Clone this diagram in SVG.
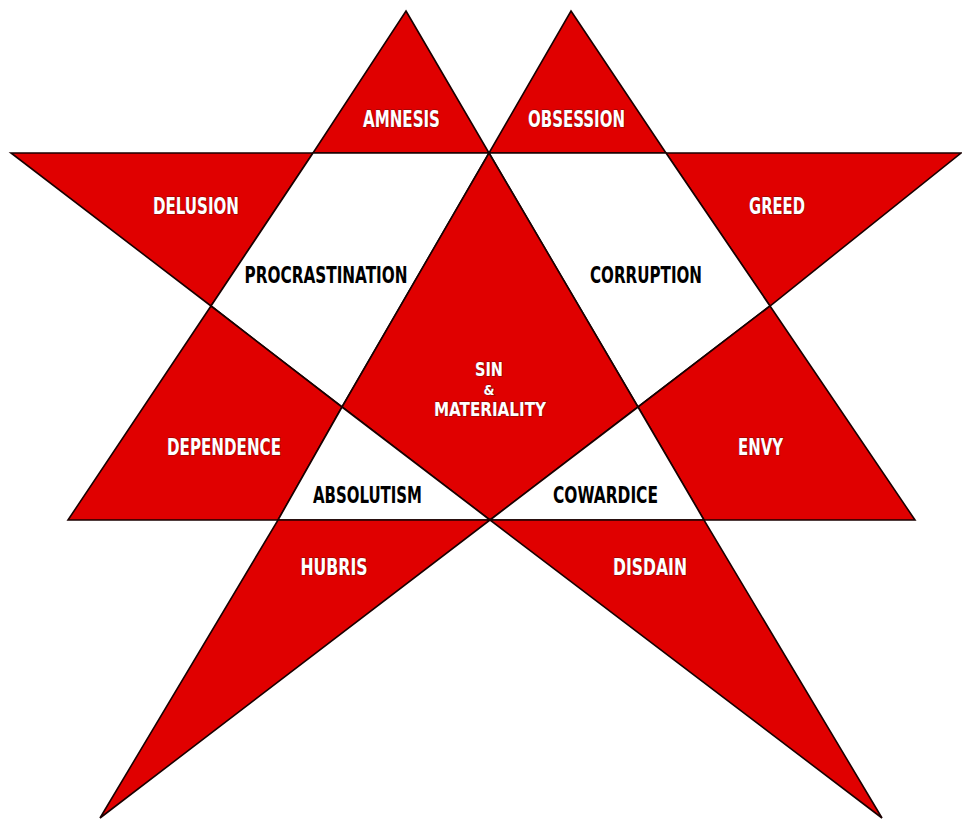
<svg xmlns="http://www.w3.org/2000/svg" width="962" height="821" viewBox="0 0 962 821">
<style>
.red{fill:#e00000;stroke:#1a0000;stroke-width:1.6;stroke-linejoin:miter}
.wht{fill:#ffffff;stroke:#1a0000;stroke-width:1.6;stroke-linejoin:miter}
text{font-family:"Liberation Sans Narrow","DejaVu Sans Condensed","Liberation Sans",sans-serif;font-weight:bold;font-size:23px;text-anchor:middle}
.lw{fill:#ffffff;stroke:#5a1010;stroke-width:1.4;paint-order:stroke;stroke-opacity:0.55}
.lb{fill:#000000}
.sm{font-size:19px}
</style>
<rect width="962" height="821" fill="#ffffff"/>
<g id="amnesis"><polygon class="red" points="406,11 489,153 313,153"/><text class="lw" x="401.5" y="127" textLength="77" lengthAdjust="spacingAndGlyphs">AMNESIS</text></g>
<g id="obsession"><polygon class="red" points="571,11 666,153 489,153"/><text class="lw" x="576.5" y="127" textLength="97" lengthAdjust="spacingAndGlyphs">OBSESSION</text></g>
<g id="delusion"><polygon class="red" points="11,153 313,153 211,306"/><text class="lw" x="196" y="214" textLength="86" lengthAdjust="spacingAndGlyphs">DELUSION</text></g>
<g id="greed"><polygon class="red" points="666,153 961,153 770,306"/><text class="lw" x="777" y="214" textLength="56" lengthAdjust="spacingAndGlyphs">GREED</text></g>
<g id="procrastination"><polygon class="wht" points="313,153 489,153 342,407 211,306"/><text class="lb" x="326" y="283" textLength="163" lengthAdjust="spacingAndGlyphs">PROCRASTINATION</text></g>
<g id="corruption"><polygon class="wht" points="489,153 666,153 770,306 638,407"/><text class="lb" x="646" y="283" textLength="112" lengthAdjust="spacingAndGlyphs">CORRUPTION</text></g>
<g id="sin-materiality"><polygon class="red" points="489,153 638,407 490,520 342,407"/>
<text class="lw sm" x="489" y="376" textLength="28" lengthAdjust="spacingAndGlyphs">SIN</text>
<text class="lw" x="489" y="395" style="font-size:14px">&amp;</text>
<text class="lw sm" x="490" y="416" textLength="112" lengthAdjust="spacingAndGlyphs">MATERIALITY</text></g>
<g id="dependence"><polygon class="red" points="211,306 342,407 278,520 68,520"/><text class="lw" x="224" y="455" textLength="114" lengthAdjust="spacingAndGlyphs">DEPENDENCE</text></g>
<g id="envy"><polygon class="red" points="770,306 915,520 704,520 638,407"/><text class="lw" x="760.5" y="455" textLength="45" lengthAdjust="spacingAndGlyphs">ENVY</text></g>
<g id="absolutism"><polygon class="wht" points="342,407 490,520 278,520"/><text class="lb" x="367.5" y="503" textLength="109" lengthAdjust="spacingAndGlyphs">ABSOLUTISM</text></g>
<g id="cowardice"><polygon class="wht" points="638,407 704,520 490,520"/><text class="lb" x="605.5" y="503" textLength="105" lengthAdjust="spacingAndGlyphs">COWARDICE</text></g>
<g id="hubris"><polygon class="red" points="278,520 490,520 100,818"/><text class="lw" x="334" y="575" textLength="67" lengthAdjust="spacingAndGlyphs">HUBRIS</text></g>
<g id="disdain"><polygon class="red" points="490,520 704,520 882,818"/><text class="lw" x="650" y="575" textLength="74" lengthAdjust="spacingAndGlyphs">DISDAIN</text></g>
<g id="connectors"></g>
</svg>
